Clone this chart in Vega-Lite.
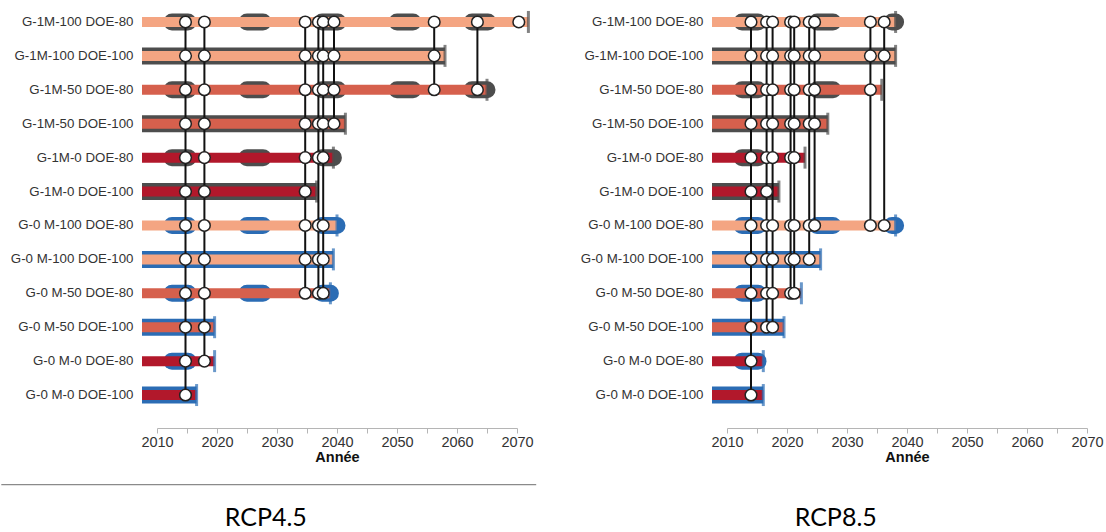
{
  "$schema": "https://vega.github.io/schema/vega-lite/v6.json",
  "padding": {"left": 0, "top": 5, "right": 0, "bottom": 0},
  "background": "white",
  "config": {
    "view": {"stroke": null},
    "font": "Liberation Sans",
    "axisX": {"values": [2010, 2020, 2030, 2040, 2050, 2060, 2070], "format": "d", "offset": 16, "tickSize": 5, "domainColor": "#b5b5b5", "tickColor": "#b5b5b5", "labelFontSize": 14.5, "labelColor": "#333333", "labelFont": "Liberation Sans", "labelPadding": 2, "labelFlush": false, "titleFont": "Liberation Sans", "titleFontSize": 14.5, "titleFontWeight": "bold", "titleColor": "#111111", "titlePadding": 2, "grid": false},
    "axisY": {"title": null, "ticks": false, "tickSize": 0, "domain": false, "labelPadding": 24, "labelFontSize": 13.3, "labelColor": "#333333", "labelFont": "Liberation Sans", "labelLimit": 300, "grid": false}
  },
  "datasets": {
    "rows": [
      {"panel": "RCP4.5", "row": "G-1M-100 DOE-80", "g": "G-1M", "m": "100", "doe": "80", "start": 2007.5, "end": 2071.9},
      {"panel": "RCP4.5", "row": "G-1M-100 DOE-100", "g": "G-1M", "m": "100", "doe": "100", "start": 2007.5, "end": 2058.0},
      {"panel": "RCP4.5", "row": "G-1M-50 DOE-80", "g": "G-1M", "m": "50", "doe": "80", "start": 2007.5, "end": 2065.0},
      {"panel": "RCP4.5", "row": "G-1M-50 DOE-100", "g": "G-1M", "m": "50", "doe": "100", "start": 2007.5, "end": 2041.4},
      {"panel": "RCP4.5", "row": "G-1M-0 DOE-80", "g": "G-1M", "m": "0", "doe": "80", "start": 2007.5, "end": 2039.4},
      {"panel": "RCP4.5", "row": "G-1M-0 DOE-100", "g": "G-1M", "m": "0", "doe": "100", "start": 2007.5, "end": 2036.6},
      {"panel": "RCP4.5", "row": "G-0 M-100 DOE-80", "g": "G-0", "m": "100", "doe": "80", "start": 2007.5, "end": 2040.0},
      {"panel": "RCP4.5", "row": "G-0 M-100 DOE-100", "g": "G-0", "m": "100", "doe": "100", "start": 2007.5, "end": 2039.4},
      {"panel": "RCP4.5", "row": "G-0 M-50 DOE-80", "g": "G-0", "m": "50", "doe": "80", "start": 2007.5, "end": 2038.9},
      {"panel": "RCP4.5", "row": "G-0 M-50 DOE-100", "g": "G-0", "m": "50", "doe": "100", "start": 2007.5, "end": 2019.6},
      {"panel": "RCP4.5", "row": "G-0 M-0 DOE-80", "g": "G-0", "m": "0", "doe": "80", "start": 2007.5, "end": 2019.6},
      {"panel": "RCP4.5", "row": "G-0 M-0 DOE-100", "g": "G-0", "m": "0", "doe": "100", "start": 2007.5, "end": 2016.6},
      {"panel": "RCP8.5", "row": "G-1M-100 DOE-80", "g": "G-1M", "m": "100", "doe": "80", "start": 2007.5, "end": 2038.1},
      {"panel": "RCP8.5", "row": "G-1M-100 DOE-100", "g": "G-1M", "m": "100", "doe": "100", "start": 2007.5, "end": 2038.1},
      {"panel": "RCP8.5", "row": "G-1M-50 DOE-80", "g": "G-1M", "m": "50", "doe": "80", "start": 2007.5, "end": 2035.8},
      {"panel": "RCP8.5", "row": "G-1M-50 DOE-100", "g": "G-1M", "m": "50", "doe": "100", "start": 2007.5, "end": 2026.8},
      {"panel": "RCP8.5", "row": "G-1M-0 DOE-80", "g": "G-1M", "m": "0", "doe": "80", "start": 2007.5, "end": 2023.0},
      {"panel": "RCP8.5", "row": "G-1M-0 DOE-100", "g": "G-1M", "m": "0", "doe": "100", "start": 2007.5, "end": 2018.65},
      {"panel": "RCP8.5", "row": "G-0 M-100 DOE-80", "g": "G-0", "m": "100", "doe": "80", "start": 2007.5, "end": 2038.1},
      {"panel": "RCP8.5", "row": "G-0 M-100 DOE-100", "g": "G-0", "m": "100", "doe": "100", "start": 2007.5, "end": 2025.6},
      {"panel": "RCP8.5", "row": "G-0 M-50 DOE-80", "g": "G-0", "m": "50", "doe": "80", "start": 2007.5, "end": 2022.4},
      {"panel": "RCP8.5", "row": "G-0 M-50 DOE-100", "g": "G-0", "m": "50", "doe": "100", "start": 2007.5, "end": 2019.5},
      {"panel": "RCP8.5", "row": "G-0 M-0 DOE-80", "g": "G-0", "m": "0", "doe": "80", "start": 2007.5, "end": 2016.05},
      {"panel": "RCP8.5", "row": "G-0 M-0 DOE-100", "g": "G-0", "m": "0", "doe": "100", "start": 2007.5, "end": 2016.05}
    ],
    "links": [
      {"panel": "RCP4.5", "year": 2014.75, "from": "G-1M-100 DOE-80", "to": "G-0 M-0 DOE-100"},
      {"panel": "RCP4.5", "year": 2017.9, "from": "G-1M-100 DOE-80", "to": "G-0 M-0 DOE-80"},
      {"panel": "RCP4.5", "year": 2034.7, "from": "G-1M-100 DOE-80", "to": "G-0 M-50 DOE-80"},
      {"panel": "RCP4.5", "year": 2036.9, "from": "G-1M-100 DOE-80", "to": "G-0 M-50 DOE-80"},
      {"panel": "RCP4.5", "year": 2037.7, "from": "G-1M-100 DOE-80", "to": "G-0 M-50 DOE-80"},
      {"panel": "RCP4.5", "year": 2039.5, "from": "G-1M-100 DOE-80", "to": "G-1M-50 DOE-100"},
      {"panel": "RCP4.5", "year": 2056.2, "from": "G-1M-100 DOE-80", "to": "G-1M-50 DOE-80"},
      {"panel": "RCP4.5", "year": 2063.4, "from": "G-1M-100 DOE-80", "to": "G-1M-50 DOE-80"},
      {"panel": "RCP8.5", "year": 2014.0, "from": "G-1M-100 DOE-80", "to": "G-0 M-0 DOE-100"},
      {"panel": "RCP8.5", "year": 2016.6, "from": "G-1M-100 DOE-80", "to": "G-0 M-50 DOE-100"},
      {"panel": "RCP8.5", "year": 2017.6, "from": "G-1M-100 DOE-80", "to": "G-0 M-50 DOE-100"},
      {"panel": "RCP8.5", "year": 2020.6, "from": "G-1M-100 DOE-80", "to": "G-0 M-50 DOE-80"},
      {"panel": "RCP8.5", "year": 2021.2, "from": "G-1M-100 DOE-80", "to": "G-0 M-50 DOE-80"},
      {"panel": "RCP8.5", "year": 2023.7, "from": "G-1M-100 DOE-80", "to": "G-0 M-100 DOE-100"},
      {"panel": "RCP8.5", "year": 2024.6, "from": "G-1M-100 DOE-80", "to": "G-0 M-100 DOE-80"},
      {"panel": "RCP8.5", "year": 2033.9, "from": "G-1M-100 DOE-80", "to": "G-0 M-100 DOE-80"},
      {"panel": "RCP8.5", "year": 2036.2, "from": "G-1M-100 DOE-80", "to": "G-0 M-100 DOE-80"}
    ],
    "stations": [
      {"panel": "RCP4.5", "row": "G-1M-100 DOE-80", "year": 2014.75},
      {"panel": "RCP4.5", "row": "G-1M-100 DOE-80", "year": 2017.9},
      {"panel": "RCP4.5", "row": "G-1M-100 DOE-80", "year": 2034.7},
      {"panel": "RCP4.5", "row": "G-1M-100 DOE-80", "year": 2036.9},
      {"panel": "RCP4.5", "row": "G-1M-100 DOE-80", "year": 2037.7},
      {"panel": "RCP4.5", "row": "G-1M-100 DOE-80", "year": 2039.5},
      {"panel": "RCP4.5", "row": "G-1M-100 DOE-80", "year": 2056.2},
      {"panel": "RCP4.5", "row": "G-1M-100 DOE-80", "year": 2063.4},
      {"panel": "RCP4.5", "row": "G-1M-100 DOE-80", "year": 2070.3},
      {"panel": "RCP4.5", "row": "G-1M-100 DOE-100", "year": 2014.75},
      {"panel": "RCP4.5", "row": "G-1M-100 DOE-100", "year": 2017.9},
      {"panel": "RCP4.5", "row": "G-1M-100 DOE-100", "year": 2034.7},
      {"panel": "RCP4.5", "row": "G-1M-100 DOE-100", "year": 2036.9},
      {"panel": "RCP4.5", "row": "G-1M-100 DOE-100", "year": 2037.7},
      {"panel": "RCP4.5", "row": "G-1M-100 DOE-100", "year": 2039.5},
      {"panel": "RCP4.5", "row": "G-1M-100 DOE-100", "year": 2056.2},
      {"panel": "RCP4.5", "row": "G-1M-50 DOE-80", "year": 2014.75},
      {"panel": "RCP4.5", "row": "G-1M-50 DOE-80", "year": 2017.9},
      {"panel": "RCP4.5", "row": "G-1M-50 DOE-80", "year": 2034.7},
      {"panel": "RCP4.5", "row": "G-1M-50 DOE-80", "year": 2036.9},
      {"panel": "RCP4.5", "row": "G-1M-50 DOE-80", "year": 2037.7},
      {"panel": "RCP4.5", "row": "G-1M-50 DOE-80", "year": 2039.5},
      {"panel": "RCP4.5", "row": "G-1M-50 DOE-80", "year": 2056.2},
      {"panel": "RCP4.5", "row": "G-1M-50 DOE-80", "year": 2063.4},
      {"panel": "RCP4.5", "row": "G-1M-50 DOE-100", "year": 2014.75},
      {"panel": "RCP4.5", "row": "G-1M-50 DOE-100", "year": 2017.9},
      {"panel": "RCP4.5", "row": "G-1M-50 DOE-100", "year": 2034.7},
      {"panel": "RCP4.5", "row": "G-1M-50 DOE-100", "year": 2036.9},
      {"panel": "RCP4.5", "row": "G-1M-50 DOE-100", "year": 2037.7},
      {"panel": "RCP4.5", "row": "G-1M-50 DOE-100", "year": 2039.5},
      {"panel": "RCP4.5", "row": "G-1M-0 DOE-80", "year": 2014.75},
      {"panel": "RCP4.5", "row": "G-1M-0 DOE-80", "year": 2017.9},
      {"panel": "RCP4.5", "row": "G-1M-0 DOE-80", "year": 2034.7},
      {"panel": "RCP4.5", "row": "G-1M-0 DOE-80", "year": 2036.9},
      {"panel": "RCP4.5", "row": "G-1M-0 DOE-80", "year": 2037.7},
      {"panel": "RCP4.5", "row": "G-1M-0 DOE-100", "year": 2014.75},
      {"panel": "RCP4.5", "row": "G-1M-0 DOE-100", "year": 2017.9},
      {"panel": "RCP4.5", "row": "G-1M-0 DOE-100", "year": 2034.7},
      {"panel": "RCP4.5", "row": "G-0 M-100 DOE-80", "year": 2014.75},
      {"panel": "RCP4.5", "row": "G-0 M-100 DOE-80", "year": 2017.9},
      {"panel": "RCP4.5", "row": "G-0 M-100 DOE-80", "year": 2034.7},
      {"panel": "RCP4.5", "row": "G-0 M-100 DOE-80", "year": 2036.9},
      {"panel": "RCP4.5", "row": "G-0 M-100 DOE-80", "year": 2037.7},
      {"panel": "RCP4.5", "row": "G-0 M-100 DOE-100", "year": 2014.75},
      {"panel": "RCP4.5", "row": "G-0 M-100 DOE-100", "year": 2017.9},
      {"panel": "RCP4.5", "row": "G-0 M-100 DOE-100", "year": 2034.7},
      {"panel": "RCP4.5", "row": "G-0 M-100 DOE-100", "year": 2036.9},
      {"panel": "RCP4.5", "row": "G-0 M-100 DOE-100", "year": 2037.7},
      {"panel": "RCP4.5", "row": "G-0 M-50 DOE-80", "year": 2014.75},
      {"panel": "RCP4.5", "row": "G-0 M-50 DOE-80", "year": 2017.9},
      {"panel": "RCP4.5", "row": "G-0 M-50 DOE-80", "year": 2034.7},
      {"panel": "RCP4.5", "row": "G-0 M-50 DOE-80", "year": 2036.9},
      {"panel": "RCP4.5", "row": "G-0 M-50 DOE-80", "year": 2037.7},
      {"panel": "RCP4.5", "row": "G-0 M-50 DOE-100", "year": 2014.75},
      {"panel": "RCP4.5", "row": "G-0 M-50 DOE-100", "year": 2017.9},
      {"panel": "RCP4.5", "row": "G-0 M-0 DOE-80", "year": 2014.75},
      {"panel": "RCP4.5", "row": "G-0 M-0 DOE-80", "year": 2017.9},
      {"panel": "RCP4.5", "row": "G-0 M-0 DOE-100", "year": 2014.75},

      {"panel": "RCP8.5", "row": "G-1M-100 DOE-80", "year": 2014.0},
      {"panel": "RCP8.5", "row": "G-1M-100 DOE-80", "year": 2016.6},
      {"panel": "RCP8.5", "row": "G-1M-100 DOE-80", "year": 2017.6},
      {"panel": "RCP8.5", "row": "G-1M-100 DOE-80", "year": 2020.6},
      {"panel": "RCP8.5", "row": "G-1M-100 DOE-80", "year": 2021.2},
      {"panel": "RCP8.5", "row": "G-1M-100 DOE-80", "year": 2023.7},
      {"panel": "RCP8.5", "row": "G-1M-100 DOE-80", "year": 2024.6},
      {"panel": "RCP8.5", "row": "G-1M-100 DOE-80", "year": 2033.9},
      {"panel": "RCP8.5", "row": "G-1M-100 DOE-80", "year": 2036.2},
      {"panel": "RCP8.5", "row": "G-1M-100 DOE-100", "year": 2014.0},
      {"panel": "RCP8.5", "row": "G-1M-100 DOE-100", "year": 2016.6},
      {"panel": "RCP8.5", "row": "G-1M-100 DOE-100", "year": 2017.6},
      {"panel": "RCP8.5", "row": "G-1M-100 DOE-100", "year": 2020.6},
      {"panel": "RCP8.5", "row": "G-1M-100 DOE-100", "year": 2021.2},
      {"panel": "RCP8.5", "row": "G-1M-100 DOE-100", "year": 2023.7},
      {"panel": "RCP8.5", "row": "G-1M-100 DOE-100", "year": 2024.6},
      {"panel": "RCP8.5", "row": "G-1M-100 DOE-100", "year": 2033.9},
      {"panel": "RCP8.5", "row": "G-1M-100 DOE-100", "year": 2036.2},
      {"panel": "RCP8.5", "row": "G-1M-50 DOE-80", "year": 2014.0},
      {"panel": "RCP8.5", "row": "G-1M-50 DOE-80", "year": 2016.6},
      {"panel": "RCP8.5", "row": "G-1M-50 DOE-80", "year": 2017.6},
      {"panel": "RCP8.5", "row": "G-1M-50 DOE-80", "year": 2020.6},
      {"panel": "RCP8.5", "row": "G-1M-50 DOE-80", "year": 2021.2},
      {"panel": "RCP8.5", "row": "G-1M-50 DOE-80", "year": 2023.7},
      {"panel": "RCP8.5", "row": "G-1M-50 DOE-80", "year": 2024.6},
      {"panel": "RCP8.5", "row": "G-1M-50 DOE-80", "year": 2033.9},
      {"panel": "RCP8.5", "row": "G-1M-50 DOE-100", "year": 2014.0},
      {"panel": "RCP8.5", "row": "G-1M-50 DOE-100", "year": 2016.6},
      {"panel": "RCP8.5", "row": "G-1M-50 DOE-100", "year": 2017.6},
      {"panel": "RCP8.5", "row": "G-1M-50 DOE-100", "year": 2020.6},
      {"panel": "RCP8.5", "row": "G-1M-50 DOE-100", "year": 2021.2},
      {"panel": "RCP8.5", "row": "G-1M-50 DOE-100", "year": 2023.7},
      {"panel": "RCP8.5", "row": "G-1M-50 DOE-100", "year": 2024.6},
      {"panel": "RCP8.5", "row": "G-1M-0 DOE-80", "year": 2014.0},
      {"panel": "RCP8.5", "row": "G-1M-0 DOE-80", "year": 2016.6},
      {"panel": "RCP8.5", "row": "G-1M-0 DOE-80", "year": 2017.6},
      {"panel": "RCP8.5", "row": "G-1M-0 DOE-80", "year": 2020.6},
      {"panel": "RCP8.5", "row": "G-1M-0 DOE-80", "year": 2021.2},
      {"panel": "RCP8.5", "row": "G-1M-0 DOE-100", "year": 2014.0},
      {"panel": "RCP8.5", "row": "G-1M-0 DOE-100", "year": 2016.6},
      {"panel": "RCP8.5", "row": "G-0 M-100 DOE-80", "year": 2014.0},
      {"panel": "RCP8.5", "row": "G-0 M-100 DOE-80", "year": 2016.6},
      {"panel": "RCP8.5", "row": "G-0 M-100 DOE-80", "year": 2017.6},
      {"panel": "RCP8.5", "row": "G-0 M-100 DOE-80", "year": 2020.6},
      {"panel": "RCP8.5", "row": "G-0 M-100 DOE-80", "year": 2021.2},
      {"panel": "RCP8.5", "row": "G-0 M-100 DOE-80", "year": 2023.7},
      {"panel": "RCP8.5", "row": "G-0 M-100 DOE-80", "year": 2024.6},
      {"panel": "RCP8.5", "row": "G-0 M-100 DOE-80", "year": 2033.9},
      {"panel": "RCP8.5", "row": "G-0 M-100 DOE-80", "year": 2036.2},
      {"panel": "RCP8.5", "row": "G-0 M-100 DOE-100", "year": 2014.0},
      {"panel": "RCP8.5", "row": "G-0 M-100 DOE-100", "year": 2016.6},
      {"panel": "RCP8.5", "row": "G-0 M-100 DOE-100", "year": 2017.6},
      {"panel": "RCP8.5", "row": "G-0 M-100 DOE-100", "year": 2020.6},
      {"panel": "RCP8.5", "row": "G-0 M-100 DOE-100", "year": 2021.2},
      {"panel": "RCP8.5", "row": "G-0 M-100 DOE-100", "year": 2023.7},
      {"panel": "RCP8.5", "row": "G-0 M-50 DOE-80", "year": 2014.0},
      {"panel": "RCP8.5", "row": "G-0 M-50 DOE-80", "year": 2016.6},
      {"panel": "RCP8.5", "row": "G-0 M-50 DOE-80", "year": 2017.6},
      {"panel": "RCP8.5", "row": "G-0 M-50 DOE-80", "year": 2020.6},
      {"panel": "RCP8.5", "row": "G-0 M-50 DOE-80", "year": 2021.2},
      {"panel": "RCP8.5", "row": "G-0 M-50 DOE-100", "year": 2014.0},
      {"panel": "RCP8.5", "row": "G-0 M-50 DOE-100", "year": 2016.6},
      {"panel": "RCP8.5", "row": "G-0 M-50 DOE-100", "year": 2017.6},
      {"panel": "RCP8.5", "row": "G-0 M-0 DOE-80", "year": 2014.0},
      {"panel": "RCP8.5", "row": "G-0 M-0 DOE-100", "year": 2014.0}
    ],
    "divider": [
      {"panel": "RCP4.5", "x": 1984.05, "x2": 2073.2, "y": -0.1786}
    ]
  },
  "hconcat": [
    {
      "width": 360,
      "height": 407,
      "title": {"text": "RCP4.5", "orient": "bottom", "anchor": "middle", "frame": "bounds", "font": "Lato", "fontSize": 25, "fontWeight": "normal", "color": "#000000", "offset": 21, "dx": -3},
      "resolve": {"scale": {"y": "independent"}, "axis": {"y": "independent"}},
      "layer": [
        {
          "data": {"name": "divider"},
          "mark": {"type": "rule", "stroke": "#8a8a8a", "strokeWidth": 1.2},
          "encoding": {
            "x": {"field": "x", "type": "quantitative", "scale": {"domain": [2010, 2070], "nice": false, "zero": false}, "title": "Année"},
            "x2": {"field": "x2"},
            "y": {"field": "y", "type": "quantitative", "scale": {"domain": [0, 1], "nice": false, "zero": false}, "axis": null}
          }
        },
        {
          "layer": [
            {
              "data": {"name": "rows"},
              "transform": [{"filter": "datum.panel == 'RCP4.5' && datum.doe == '100'"}],
              "mark": {"type": "rule", "strokeWidth": 17, "strokeCap": "butt"},
              "encoding": {
                "x": {"field": "start", "type": "quantitative", "scale": {"domain": [2010, 2070], "nice": false, "zero": false}, "title": "Année"},
                "x2": {"field": "end"},
                "y": {"field": "row", "type": "nominal", "scale": {"type": "band", "domain": ["G-1M-100 DOE-80", "G-1M-100 DOE-100", "G-1M-50 DOE-80", "G-1M-50 DOE-100", "G-1M-0 DOE-80", "G-1M-0 DOE-100", "G-0 M-100 DOE-80", "G-0 M-100 DOE-100", "G-0 M-50 DOE-80", "G-0 M-50 DOE-100", "G-0 M-0 DOE-80", "G-0 M-0 DOE-100"], "paddingInner": 0, "paddingOuter": 0}, "title": null},
                "stroke": {"field": "g", "type": "nominal", "scale": {"domain": ["G-1M", "G-0"], "range": ["#4d4d4d", "#2b6cb4"]}, "legend": null}
              }
            },
            {
              "data": {"name": "rows"},
              "transform": [{"filter": "datum.panel == 'RCP4.5' && datum.doe == '80'"}],
              "mark": {"type": "rule", "strokeWidth": 17, "strokeCap": "round", "strokeDash": [16, 59], "strokeDashOffset": 45},
              "encoding": {
                "x": {"field": "start", "type": "quantitative", "title": "Année"},
                "x2": {"field": "end"},
                "y": {"field": "row", "type": "nominal", "title": null},
                "stroke": {"field": "g", "type": "nominal", "legend": null}
              }
            },
            {
              "data": {"name": "rows"},
              "transform": [{"filter": "datum.panel == 'RCP4.5'"}],
              "mark": {"type": "rule", "strokeWidth": 10, "strokeCap": "butt"},
              "encoding": {
                "x": {"field": "start", "type": "quantitative", "title": "Année"},
                "x2": {"field": "end"},
                "y": {"field": "row", "type": "nominal", "title": null},
                "color": {"field": "m", "type": "nominal", "scale": {"domain": ["100", "50", "0"], "range": ["#f4a582", "#d6604d", "#b2182b"]}, "legend": null}
              }
            },
            {
              "data": {"name": "rows"},
              "transform": [{"filter": "datum.panel == 'RCP4.5'"}],
              "mark": {"type": "tick", "orient": "vertical", "thickness": 3, "size": 22},
              "encoding": {
                "x": {"field": "end", "type": "quantitative", "title": "Année"},
                "y": {"field": "row", "type": "nominal", "title": null},
                "fill": {"field": "g", "type": "nominal", "scale": {"domain": ["G-1M", "G-0"], "range": ["#4d4d4d", "#2b6cb4"]}, "legend": null}
              }
            },
            {
              "data": {"name": "links"},
              "transform": [{"filter": "datum.panel == 'RCP4.5'"}],
              "mark": {"type": "rule", "stroke": "#111111", "strokeWidth": 2},
              "encoding": {
                "x": {"field": "year", "type": "quantitative", "title": "Année"},
                "y": {"field": "from", "type": "nominal", "title": null},
                "y2": {"field": "to"}
              }
            },
            {
              "data": {"name": "stations"},
              "transform": [{"filter": "datum.panel == 'RCP4.5'"}],
              "mark": {"type": "point", "shape": "circle", "filled": true, "fill": "#ffffff", "stroke": "#222222", "strokeWidth": 1.5, "size": 135, "opacity": 1},
              "encoding": {
                "x": {"field": "year", "type": "quantitative", "title": "Année"},
                "y": {"field": "row", "type": "nominal", "title": null}
              }
            }
          ]
        }
      ]
    },
    {
      "width": 360,
      "height": 407,
      "title": {"text": "RCP8.5", "orient": "bottom", "anchor": "middle", "frame": "bounds", "font": "Lato", "fontSize": 25, "fontWeight": "normal", "color": "#000000", "offset": 42, "dx": -6},
      "layer": [
        {
          "data": {"name": "rows"},
          "transform": [{"filter": "datum.panel == 'RCP8.5' && datum.doe == '100'"}],
          "mark": {"type": "rule", "strokeWidth": 17, "strokeCap": "butt"},
          "encoding": {
            "x": {"field": "start", "type": "quantitative", "scale": {"domain": [2010, 2070], "nice": false, "zero": false}, "title": "Année"},
            "x2": {"field": "end"},
            "y": {"field": "row", "type": "nominal", "scale": {"type": "band", "domain": ["G-1M-100 DOE-80", "G-1M-100 DOE-100", "G-1M-50 DOE-80", "G-1M-50 DOE-100", "G-1M-0 DOE-80", "G-1M-0 DOE-100", "G-0 M-100 DOE-80", "G-0 M-100 DOE-100", "G-0 M-50 DOE-80", "G-0 M-50 DOE-100", "G-0 M-0 DOE-80", "G-0 M-0 DOE-100"], "paddingInner": 0, "paddingOuter": 0}, "title": null},
            "stroke": {"field": "g", "type": "nominal", "scale": {"domain": ["G-1M", "G-0"], "range": ["#4d4d4d", "#2b6cb4"]}, "legend": null}
          }
        },
        {
          "data": {"name": "rows"},
          "transform": [{"filter": "datum.panel == 'RCP8.5' && datum.doe == '80'"}],
          "mark": {"type": "rule", "strokeWidth": 17, "strokeCap": "round", "strokeDash": [16, 59], "strokeDashOffset": 45},
          "encoding": {
            "x": {"field": "start", "type": "quantitative", "title": "Année"},
            "x2": {"field": "end"},
            "y": {"field": "row", "type": "nominal", "title": null},
            "stroke": {"field": "g", "type": "nominal", "legend": null}
          }
        },
        {
          "data": {"name": "rows"},
          "transform": [{"filter": "datum.panel == 'RCP8.5'"}],
          "mark": {"type": "rule", "strokeWidth": 10, "strokeCap": "butt"},
          "encoding": {
            "x": {"field": "start", "type": "quantitative", "title": "Année"},
            "x2": {"field": "end"},
            "y": {"field": "row", "type": "nominal", "title": null},
            "color": {"field": "m", "type": "nominal", "scale": {"domain": ["100", "50", "0"], "range": ["#f4a582", "#d6604d", "#b2182b"]}, "legend": null}
          }
        },
        {
          "data": {"name": "rows"},
          "transform": [{"filter": "datum.panel == 'RCP8.5'"}],
          "mark": {"type": "tick", "orient": "vertical", "thickness": 3, "size": 22},
          "encoding": {
            "x": {"field": "end", "type": "quantitative", "title": "Année"},
            "y": {"field": "row", "type": "nominal", "title": null},
            "fill": {"field": "g", "type": "nominal", "scale": {"domain": ["G-1M", "G-0"], "range": ["#4d4d4d", "#2b6cb4"]}, "legend": null}
          }
        },
        {
          "data": {"name": "links"},
          "transform": [{"filter": "datum.panel == 'RCP8.5'"}],
          "mark": {"type": "rule", "stroke": "#111111", "strokeWidth": 2},
          "encoding": {
            "x": {"field": "year", "type": "quantitative", "title": "Année"},
            "y": {"field": "from", "type": "nominal", "title": null},
            "y2": {"field": "to"}
          }
        },
        {
          "data": {"name": "stations"},
          "transform": [{"filter": "datum.panel == 'RCP8.5'"}],
          "mark": {"type": "point", "shape": "circle", "filled": true, "fill": "#ffffff", "stroke": "#222222", "strokeWidth": 1.5, "size": 135, "opacity": 1},
          "encoding": {
            "x": {"field": "year", "type": "quantitative", "title": "Année"},
            "y": {"field": "row", "type": "nominal", "title": null}
          }
        }
      ]
    }
  ],
  "spacing": 210,
  "bounds": "flush"
}
